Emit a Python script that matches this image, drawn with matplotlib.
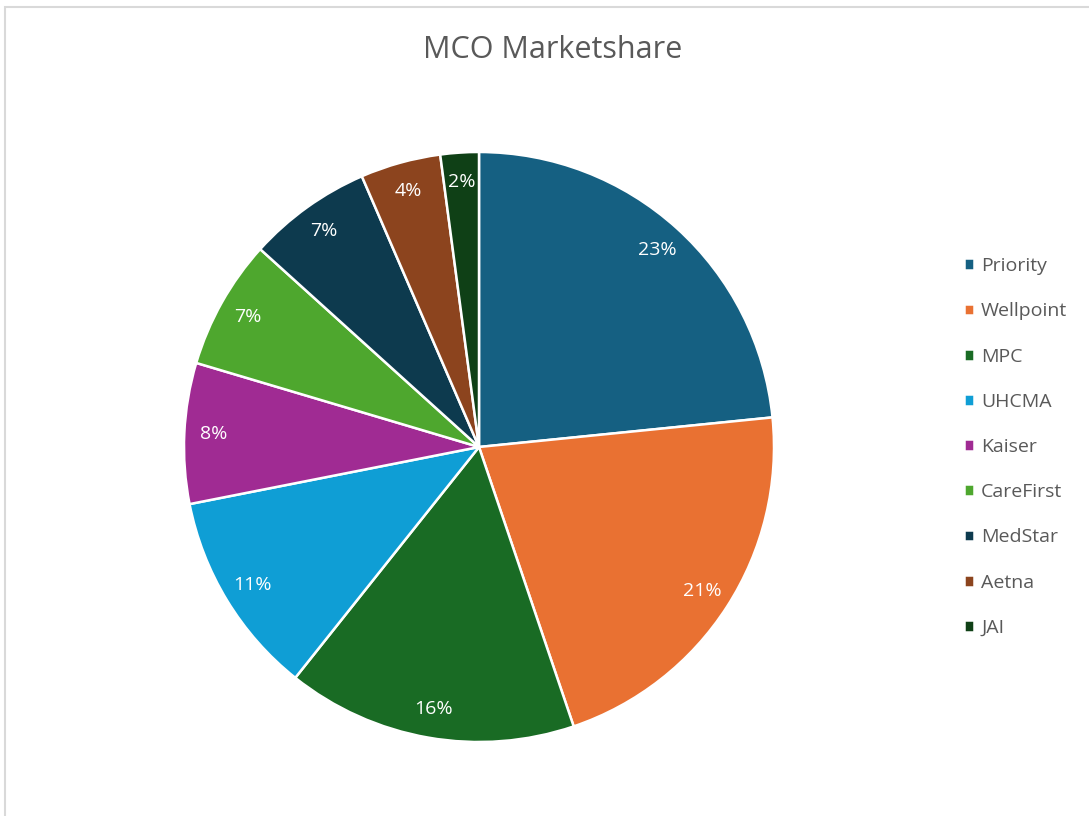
#! /usr/bin/env python3

import matplotlib
matplotlib.use('Agg')
import matplotlib.pyplot as plt
from matplotlib.patches import Rectangle

labels = ['Priority', 'Wellpoint', 'MPC', 'UHCMA', 'Kaiser',
          'CareFirst', 'MedStar', 'Aetna', 'JAI']
share = [23.4, 21.4, 15.9, 11.2, 7.7, 7.1, 6.8, 4.4, 2.1]
colors = ['#156082', '#E97132', '#196B24', '#0F9ED5', '#A02B93',
          '#4EA72E', '#0D3A4E', '#8C441E', '#0F4016']

plt.rcParams['font.family'] = ['Open Sans', 'DejaVu Sans']

W, H = 1089, 816
fig = plt.figure(figsize=(W / 100, H / 100), dpi=100)

# light grey chart frame
fig.patches.append(Rectangle((5 / W, -0.1), 1.2, (816 - 7) / H + 0.1,
                             transform=fig.transFigure, fill=False,
                             edgecolor='#d9d9d9', linewidth=1.5))

cx, cy, r = 479, 447, 295
ax = fig.add_axes([(cx - r) / W, (H - cy - r) / H, 2 * r / W, 2 * r / H])

wedges, texts, autotexts = ax.pie(
    share, colors=colors, startangle=90, counterclock=False,
    autopct='%1.0f%%', pctdistance=0.9, radius=1,
    wedgeprops={'edgecolor': 'white', 'linewidth': 1.8},
    textprops={'color': 'white', 'fontsize': 14})
ax.set_xlim(-1, 1)
ax.set_ylim(-1, 1)
ax.set_aspect('equal')

fig.text(553 / W, 1 - 50 / H, 'MCO Marketshare', ha='center', va='center',
         fontsize=22, color='#595959')

fig.legend(wedges, labels, loc='center left',
           bbox_to_anchor=(946 / W, 1 - 447 / H), frameon=False,
           fontsize=14, labelcolor='#595959', handlelength=0.55,
           handleheight=0.55, handletextpad=0.35, labelspacing=1.4)

fig.savefig('out.png', dpi=100)
